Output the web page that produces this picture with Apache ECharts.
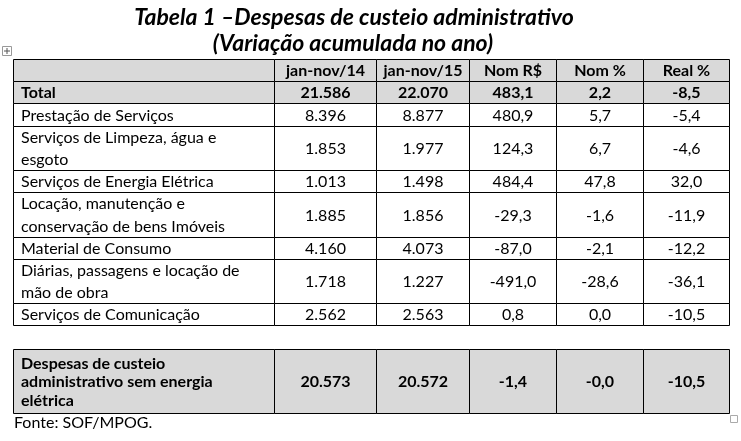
<!DOCTYPE html>
<html>
<head>
<meta charset="utf-8">
<script src="https://cdn.jsdelivr.net/npm/echarts@6/dist/echarts.min.js"></script>
<style>html,body{margin:0;padding:0;background:#fff;}#c{width:741px;height:441px;}</style>
</head>
<body>
<div id="c"></div>
<script>
// ---- data ----
const titleLines = ['Tabela 1 –Despesas de custeio administrativo', '(Variação acumulada no ano)'];
const columns = ['', 'jan-nov/14', 'jan-nov/15', 'Nom R$', 'Nom %', 'Real %'];
const categories = [
  'Total',
  'Prestação de Serviços',
  'Serviços de Limpeza, água e\nesgoto',
  'Serviços de Energia Elétrica',
  'Locação, manutenção e\nconservação de bens Imóveis',
  'Material de Consumo',
  'Diárias, passagens e locação de\nmão de obra',
  'Serviços de Comunicação',
  'Despesas de custeio\nadministrativo sem energia\nelétrica'
];
const janNov14 = [21586, 8396, 1853, 1013, 1885, 4160, 1718, 2562, 20573];
const janNov15 = [22070, 8877, 1977, 1498, 1856, 4073, 1227, 2563, 20572];
const nomRS = [483.1, 480.9, 124.3, 484.4, -29.3, -87.0, -491.0, 0.8, -1.4];
const nomPct = [2.2, 5.7, 6.7, 47.8, -1.6, -2.1, -28.6, 0.0, -0.0];
const realPct = [-8.5, -5.4, -4.6, 32.0, -11.9, -12.2, -36.1, -10.5, -10.5];
const boldRows = [0, 8];
const sourceText = 'Fonte: SOF/MPOG.';

// ---- layout ----
const colWidths = [261, 102, 93, 87, 87, 86];
const headerSpan = 1;
const rowSpans = [1, 1, 2, 1, 2, 1, 2, 1, 2.9];
const gapBefore = {8: 1.04};
const FONT = 'Lato';
const GRAY = '#d9d9d9';

const colEdges = [0];
colWidths.forEach(w => colEdges.push(colEdges[colEdges.length - 1] + w));
// row edges: index 0 = header
const rowTop = [0], rowBot = [headerSpan];
let acc = headerSpan;
rowSpans.forEach((s, i) => {
  if (gapBefore[i]) acc += gapBefore[i];
  rowTop.push(acc); acc += s; rowBot.push(acc);
});
const totalUnits = acc;

function fmtInt(v) { return String(v).replace(/\B(?=(\d{3})+(?!\d))/g, '.'); }
function fmtDec(v) {
  const neg = v < 0 || Object.is(v, -0);
  return (neg ? '-' : '') + Math.abs(v).toFixed(1).replace('.', ',');
}

const cells = [];
for (let c = 0; c < columns.length; c++) cells.push([c, 0]);
for (let r = 0; r < categories.length; r++) for (let c = 0; c < columns.length; c++) cells.push([c, r + 1]);

function cellText(c, r) {
  if (r === 0) return columns[c];
  const i = r - 1;
  switch (c) {
    case 0: return categories[i];
    case 1: return fmtInt(janNov14[i]);
    case 2: return fmtInt(janNov15[i]);
    case 3: return fmtDec(nomRS[i]);
    case 4: return fmtDec(nomPct[i]);
    case 5: return fmtDec(realPct[i]);
  }
}

const chart = echarts.init(document.getElementById('c'), null, {renderer: 'canvas'});
chart.setOption({
  backgroundColor: '#ffffff',
  animation: false,
  grid: {left: 13, top: 59, width: 716, height: 354, containLabel: false},
  xAxis: {type: 'value', min: 0, max: colEdges[colEdges.length - 1], show: false},
  yAxis: {type: 'value', min: 0, max: totalUnits, inverse: true, show: false},
  series: [{
    type: 'custom',
    data: cells,
    renderItem: function (params, api) {
      const c = api.value(0), r = api.value(1);
      const p0 = api.coord([colEdges[c], rowTop[r]]);
      const p1 = api.coord([colEdges[c + 1], rowBot[r]]);
      const x0 = Math.round(p0[0]) + 0.5, y0 = Math.round(p0[1]) + 0.5;
      const x1 = Math.round(p1[0]) + 0.5, y1 = Math.round(p1[1]) + 0.5;
      const i = r - 1;
      const bold = r === 0 || boldRows.indexOf(i) >= 0;
      const gray = r === 0 || boldRows.indexOf(i) >= 0;
      const lh = (i === 8) ? 18.6 : 22.4;
      return {
        type: 'group',
        children: [
          {type: 'rect', shape: {x: x0, y: y0, width: x1 - x0, height: y1 - y0},
            style: {fill: gray ? GRAY : '#ffffff', stroke: '#000', lineWidth: 1}},
          {type: 'text', style: {
            text: cellText(c, r),
            x: c === 0 ? x0 + 7.5 : (x0 + x1) / 2,
            y: (y0 + y1) / 2 + 0.5,
            align: c === 0 ? 'left' : 'center',
            verticalAlign: 'middle',
            lineHeight: lh,
            fill: '#000',
            font: (bold ? 'bold ' : '') + '16px ' + FONT
          }}
        ]
      };
    }
  }],
  graphic: [
    {type: 'text', x: 354, y: 18, style: {text: titleLines[0], align: 'center', verticalAlign: 'middle', fill: '#000', font: 'italic bold 23px ' + FONT}},
    {type: 'text', x: 353, y: 44, style: {text: titleLines[1], align: 'center', verticalAlign: 'middle', fill: '#000', font: 'italic bold 23px ' + FONT}},
    {type: 'text', x: 14, y: 423, style: {text: sourceText, align: 'left', verticalAlign: 'middle', fill: '#000', font: '16px ' + FONT}},
    {type: 'rect', shape: {x: 2.5, y: 46.5, width: 9, height: 9}, style: {fill: '#fff', stroke: '#999', lineWidth: 1}},
    {type: 'polyline', shape: {points: [[7, 48], [7, 54]]}, style: {stroke: '#555', lineWidth: 1}},
    {type: 'polyline', shape: {points: [[4, 51], [10, 51]]}, style: {stroke: '#555', lineWidth: 1}},
    {type: 'rect', shape: {x: 730.5, y: 415.5, width: 7, height: 7}, style: {fill: '#fff', stroke: '#aaa', lineWidth: 1}}
  ]
});
</script>
</body>
</html>
